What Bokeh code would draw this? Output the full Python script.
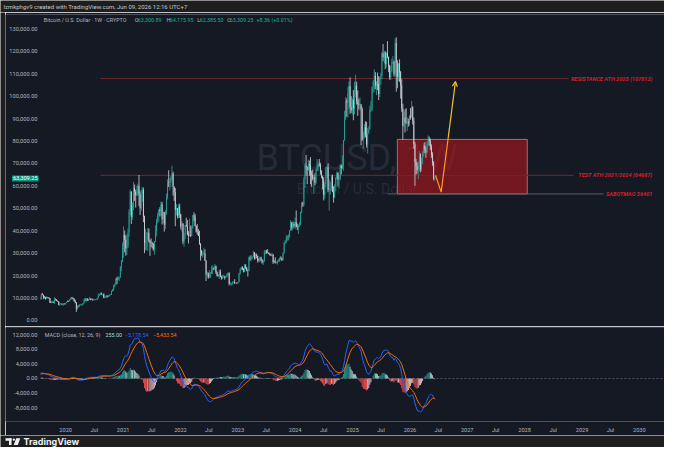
import numpy as np
import pandas as pd
from bokeh.plotting import figure
from bokeh.layouts import column, row
from bokeh.models import (ColumnDataSource, Range1d, FixedTicker, NumeralTickFormatter,
                          Label, Span, Arrow, OpenHead)
from bokeh.embed import file_html
from bokeh.resources import INLINE

# ======================= DATA =======================
header_text = "lzmkphgv9 created with TradingView.com, Jun 09, 2026 12:16 UTC+7"
symbol_text = "BTCUSD, 1W"
symbol_name = "Bitcoin / U.S. Dollar"
legend_title = "Bitcoin / U.S. Dollar · 1W · CRYPTO"
legend_ohlc_names = ["O", "H", "L", "C"]
legend_ohlc_values = [63300.89, 64175.95, 62385.50, 63309.25]
legend_change = 8.36
legend_change_pct = 0.01
macd_title = "MACD (close, 12, 26, 9)"
macd_legend_values = [255.00, -5178.54, -5433.54]   # histogram, MACD, signal

# weekly candles (thousands USD), weeks start 2019-04-01
start_week = "2019-04-01"
first_open_k = 4.10
close_2019 = [5.05,5.07,5.28,5.26,5.75,7.00,8.00,8.70,8.10,7.70,8.95,10.80,10.80,11.45,10.20,10.60,9.50,11.70,11.35,10.20,
              10.15,9.60,10.40,10.30,10.00,8.05,7.95,8.30,7.95,9.25,9.20,8.80,8.50,7.05,7.40,7.50,7.10,7.50,7.30,7.75]
high_2019 = [5.35,5.47,5.35,5.65,5.90,7.40,8.30,8.95,9.10,8.20,9.40,11.20,13.80,12.00,13.20,11.10,10.60,11.90,12.30,11.60,
             10.95,10.60,10.90,10.45,10.30,10.05,8.55,8.80,8.45,10.40,9.90,9.50,8.90,8.50,7.90,7.75,7.50,7.60,7.70,7.80]
low_2019 = [4.10,4.95,5.00,5.05,5.15,5.65,6.60,7.50,7.90,7.45,7.55,8.95,10.30,9.70,10.10,9.10,9.20,9.35,11.20,9.50,
            9.80,9.30,9.60,9.90,9.60,7.80,7.75,7.90,7.90,7.30,8.90,8.60,8.30,6.80,6.50,7.20,6.95,6.50,7.10,6.90]
close_2020 = [8.20,8.70,8.60,9.30,10.15,9.90,9.70,8.55,8.00,5.35,5.85,6.25,6.80,6.90,7.10,7.70,8.90,8.75,9.70,8.90,
              9.45,9.65,9.35,9.30,9.00,9.30,9.25,9.20,9.95,11.10,11.65,11.90,11.65,11.65,10.25,10.65,11.10,10.75,11.30,11.35,
              11.50,13.05,13.80,15.50,16.00,18.70,18.20,19.10,19.25,23.90,26.25,33.00]
high_2020 = [8.45,9.20,8.80,9.60,10.20,10.50,10.30,9.95,9.20,8.20,6.90,6.95,7.30,7.45,7.30,7.80,9.45,10.00,9.95,9.85,
             9.70,10.40,9.90,9.80,9.75,9.35,9.45,9.35,10.10,12.10,12.00,12.45,12.45,11.75,12.10,10.70,11.15,11.00,11.30,11.70,
             11.75,13.35,14.10,15.95,16.50,18.80,19.40,19.90,19.40,24.20,26.90,34.80]
low_2020 = [7.70,8.10,8.25,8.60,9.15,9.70,9.30,8.40,7.70,3.80,4.90,5.70,6.15,6.75,6.50,6.80,7.60,8.60,8.20,8.80,
            8.65,9.20,9.05,9.20,8.90,8.90,9.10,9.05,9.15,9.90,11.05,11.30,11.40,11.10,9.90,9.90,10.20,10.15,10.40,10.55,
            11.20,11.40,12.90,13.20,14.80,15.80,16.20,18.20,17.60,19.00,21.90,25.90]
close_2021 = [38.20,36.00,32.10,33.10,39.20,48.60,57.50,46.10,51.00,59.00,57.50,55.80,57.00,60.00,56.20,50.00,56.60,58.20,46.40,34.70,
              35.70,35.80,39.10,35.50,34.70,34.50,34.25,31.80,35.40,39.90,44.60,47.00,49.30,48.80,51.80,45.10,48.30,42.70,48.20,54.90,
              61.50,61.30,61.30,63.30,65.50,59.70,57.20,49.40,50.10,46.70,50.80,47.30]
high_2021 = [41.95,40.10,37.85,38.50,40.95,49.70,58.35,57.50,52.60,61.80,60.60,58.30,60.00,61.00,64.85,57.50,58.40,59.60,59.20,46.70,
             40.90,39.50,41.30,41.00,36.00,36.60,35.10,34.50,35.40,42.50,45.30,48.10,49.40,50.50,52.95,52.90,48.80,47.45,49.20,56.50,
             62.90,67.00,63.70,64.40,69.00,66.30,59.40,59.00,51.95,50.00,51.80,52.10]
low_2021 = [28.00,30.40,28.90,29.25,32.30,37.40,47.00,43.00,45.00,49.10,53.30,50.30,55.50,55.50,51.00,47.00,48.80,53.00,43.80,30.00,
            31.20,31.40,31.00,34.80,28.80,32.70,32.10,31.00,29.30,34.90,37.50,43.30,43.90,46.35,46.50,42.80,43.40,39.60,40.75,47.10,
            53.90,59.50,58.00,59.40,62.30,55.60,53.30,42.00,46.80,45.50,45.60,45.70]
close_2022 = [41.90,43.10,35.10,38.20,42.40,42.20,38.40,37.70,38.00,37.80,41.30,46.80,46.40,42.20,39.70,39.50,37.70,34.30,31.30,29.40,
              29.40,29.90,26.60,20.50,21.00,19.30,20.80,20.80,22.60,23.30,23.20,24.30,21.50,20.00,19.80,21.80,19.40,18.80,19.30,19.40,
              19.10,19.60,20.60,21.10,16.30,16.30,16.45,17.10,17.10,16.75,16.85,16.55]
high_2022 = [47.55,44.40,43.50,38.90,42.60,45.80,44.75,39.80,45.40,42.30,42.30,47.00,48.20,47.50,41.50,42.95,40.80,40.00,34.40,31.30,
             30.60,32.40,31.70,26.90,21.85,21.50,22.50,21.60,24.30,24.65,23.65,25.20,24.45,21.90,20.55,22.50,22.75,19.95,20.35,20.45,
             19.95,19.70,21.00,21.45,21.45,17.20,16.80,17.40,17.45,18.40,17.00,16.90]
low_2022 = [40.60,39.65,34.00,32.90,36.25,41.70,37.95,34.30,37.60,37.20,37.60,40.90,44.30,41.90,39.20,38.20,37.60,33.70,26.70,28.65,
            28.00,29.30,26.55,17.60,19.60,18.60,19.00,18.90,20.70,20.70,22.40,22.65,20.75,19.55,19.55,18.50,19.30,18.15,18.50,19.00,
            18.20,18.95,19.20,20.00,15.60,15.80,15.50,16.00,16.75,16.30,16.40,16.35]
close_2023 = [17.10,20.90,22.70,23.75,22.95,21.80,24.60,23.50,22.20,22.10,28.00,27.50,28.20,28.30,30.30,27.60,29.30,28.85,26.90,26.75,
              28.10,27.10,25.90,26.30,30.50,30.60,30.30,30.20,29.90,29.30,29.05,29.30,26.10,26.00,25.85,25.85,26.55,26.55,27.95,27.90,
              26.85,30.00,34.50,35.00,37.05,37.30,37.45,39.95,43.80,41.35,43.00,42.25]
high_2023 = [17.20,21.25,23.35,23.95,24.25,23.45,25.25,25.10,23.90,22.65,28.40,28.90,29.20,28.75,31.00,30.55,30.00,29.85,28.80,27.65,
             28.45,28.45,27.35,26.80,31.40,31.45,31.50,31.80,30.35,30.00,29.70,30.20,29.60,26.80,28.15,26.20,26.90,27.45,28.05,28.60,
             28.00,30.35,35.20,35.90,37.95,37.95,38.40,40.20,44.70,43.50,44.40,43.80]
low_2023 = [16.55,17.15,20.40,22.30,22.50,21.40,21.50,22.80,21.90,19.60,21.95,26.60,26.55,27.25,28.20,27.10,27.20,27.70,25.80,26.30,
            25.90,26.55,25.35,24.80,26.30,29.50,29.75,29.95,29.50,28.90,28.70,28.75,25.20,25.80,25.35,25.45,24.90,26.10,26.00,27.20,
            26.55,26.80,29.85,33.95,34.55,35.50,35.70,36.80,39.95,40.20,40.50,41.40]
close_2024 = [43.95,41.70,41.55,42.05,42.60,48.30,52.10,51.70,63.10,68.90,68.40,67.20,69.65,69.35,65.65,64.95,63.10,63.90,61.50,66.90,
              69.40,69.65,69.30,66.20,64.30,62.70,55.85,60.80,68.15,68.25,58.10,58.70,58.95,64.20,57.30,54.85,59.95,63.60,65.60,62.80,
              62.90,68.95,67.95,69.35,80.35,89.85,97.65,97.20,101.15,104.45,95.20,93.75,98.30]
high_2024 = [45.90,49.00,43.20,42.80,43.85,48.55,52.80,52.95,64.00,70.00,73.80,68.60,71.70,71.30,72.80,66.80,67.20,64.70,65.50,67.70,
             71.95,70.00,71.95,70.20,66.95,64.50,63.85,61.40,68.40,69.00,70.00,62.75,61.80,65.00,64.95,59.80,60.65,64.10,66.50,66.10,
             64.45,69.50,69.50,73.60,80.50,93.50,99.60,98.90,104.00,106.50,108.35,99.95,99.00]
low_2024 = [40.75,41.50,40.30,38.55,41.85,42.50,47.70,50.60,50.90,59.00,64.50,60.80,66.50,64.50,60.70,59.60,62.40,56.50,60.20,60.75,
            66.60,66.60,68.50,65.00,63.40,58.40,53.50,54.25,59.40,63.50,57.20,49.00,56.10,57.80,57.20,52.55,54.60,57.50,62.70,59.80,
            58.90,62.40,65.10,67.50,66.80,80.00,89.40,90.80,90.50,94.20,92.10,92.50,91.80]
close_2025 = [94.50,101.30,104.70,97.70,96.50,96.10,96.20,94.20,80.70,82.60,86.10,82.50,78.40,83.70,85.10,93.70,94.30,104.10,106.50,109.00,
              104.60,105.70,105.50,100.90,108.40,109.20,119.10,117.30,119.40,114.20,119.30,117.40,113.50,108.30,111.20,115.30,115.30,109.70,123.50,115.00,
              108.60,114.50,110.60,104.70,94.50,86.80,90.40,88.40,88.20,88.60,87.80,91.00]
high_2025 = [102.70,106.40,109.60,106.40,102.50,98.80,99.50,96.50,95.00,84.20,87.50,88.80,88.50,85.90,86.50,95.70,97.90,104.30,107.10,112.00,
             110.70,106.80,110.50,108.90,108.50,110.50,119.50,123.20,120.20,120.00,119.50,124.50,117.60,114.00,113.40,116.70,117.90,115.80,125.70,126.20,
             116.00,114.60,116.40,111.20,107.50,96.60,93.10,94.10,94.60,90.60,90.00,91.50]
low_2025 = [89.25,91.90,99.50,96.20,91.20,94.10,93.40,78.20,80.00,76.60,81.20,81.60,77.10,74.40,83.00,85.10,92.80,93.40,101.40,102.10,
            103.10,100.40,102.70,98.20,99.60,105.10,107.50,115.70,114.70,112.00,112.70,116.80,110.70,107.30,107.20,110.60,114.40,108.60,108.90,102.00,
            103.50,106.70,106.30,98.90,93.00,80.50,86.10,83.80,87.60,84.40,86.40,86.80]
close_2026 = [90.50,95.00,89.00,78.50,70.50,68.80,67.20,70.00,74.00,67.50,71.00,74.50,78.00,76.00,75.00,79.00,81.00,80.00,77.50,74.00,
              70.50,63.30089,63.30925]
high_2026 = [94.70,97.90,95.50,90.50,79.50,72.00,70.50,71.00,75.50,74.50,72.50,75.50,79.00,79.50,77.50,80.00,82.50,82.00,81.00,78.50,
             75.00,71.00,64.17595]
low_2026 = [89.50,90.80,87.30,76.50,60.00,65.00,65.50,63.00,66.50,66.00,66.50,69.50,73.00,74.50,72.50,74.50,77.50,78.00,76.00,72.50,
            69.00,62.50,62.3855]

# axes
pane_left_date = "2018-12-14"      # left edge of the chart panel (axis labels live here)
axis_date = "2019-07-25"           # price-scale boundary / first visible bar
x_axis_end = "2030-06-10"
pane_full_end = "2030-08-07"
price_ticks = [0, 10000, 20000, 30000, 40000, 50000, 60000, 70000, 80000, 90000, 100000, 110000, 120000, 130000]
macd_ticks = [-8000, -4000, 0, 4000, 8000, 12000]
time_tick_dates = ["2020-01-01", "2020-07-01", "2021-01-01", "2021-07-01", "2022-01-01", "2022-07-01",
                   "2023-01-01", "2023-07-01", "2024-01-01", "2024-07-01", "2025-01-01", "2025-07-01",
                   "2026-01-01", "2026-07-01", "2027-01-01", "2027-07-01", "2028-01-01", "2028-07-01",
                   "2029-01-01", "2029-07-01", "2030-01-01"]
time_tick_labels = ["2020", "Jul", "2021", "Jul", "2022", "Jul", "2023", "Jul", "2024", "Jul", "2025", "Jul",
                    "2026", "Jul", "2027", "Jul", "2028", "Jul", "2029", "Jul", "2030"]

# drawings
level_values = [107812, 64687, 56401]
level_texts = ["RESISTANCE ATH 2025 (107812)", "TEST ATH 2021/2024 (64687)", "SABOTMAO 56401"]
level_start = ["2020-08-10", "2020-08-10", "2025-08-12"]
level_end = ["2028-10-07", "2028-11-08", "2029-05-18"]
level_text_end = "2030-03-25"
zone_dates = ["2025-10-13", "2028-01-18"]
zone_prices = [56401, 80700]
path_dates = ["2026-06-13", "2026-07-19", "2026-10-18"]
path_prices = [64700, 57200, 106500]

# ======================= STYLE =======================
OUTER = "#1e1e1e"
PANEL = "#151924"
TXT = "#b2b5be"
UP = "#26a69a"
DOWN = "#d1d4dc"
FONT = "Roboto"
price_y = (-2674, 136364)
macd_y = (-11733, 13910)


def ms(d):
    return pd.Timestamp(d).value / 1e6


# ======================= BUILD DATA =======================
close = np.array(close_2019 + close_2020 + close_2021 + close_2022 + close_2023 + close_2024 + close_2025 + close_2026) * 1000
high = np.array(high_2019 + high_2020 + high_2021 + high_2022 + high_2023 + high_2024 + high_2025 + high_2026) * 1000
low = np.array(low_2019 + low_2020 + low_2021 + low_2022 + low_2023 + low_2024 + low_2025 + low_2026) * 1000
opens = np.concatenate([[first_open_k * 1000], close[:-1]])
high = np.maximum(high, np.maximum(opens, close))
low = np.minimum(low, np.minimum(opens, close))
dates = pd.date_range(start_week, periods=len(close), freq="7D")
xs = np.array([ms(d) for d in dates])
week = 7 * 24 * 3600 * 1000.0
up = close >= opens
candle_colors = np.where(up, UP, DOWN)
cs = ColumnDataSource(dict(x=xs, o=opens, h=high, l=low, c=close,
                           top=np.maximum(opens, close), bot=np.minimum(opens, close), col=candle_colors))

s = pd.Series(close)
macd = s.ewm(span=12, adjust=False).mean() - s.ewm(span=26, adjust=False).mean()
signal = macd.ewm(span=9, adjust=False).mean()
hist = macd - signal
prev = hist.shift(1).fillna(0)
hcol = np.where(hist >= 0, np.where(prev < hist, "#26a69a", "#b2dfdb"),
                np.where(prev < hist, "#ffcdd2", "#ff5252"))
ms_src = ColumnDataSource(dict(x=xs, macd=macd.values, sig=signal.values, hist=hist.values, col=hcol))

xr = Range1d(ms(pane_left_date), ms(x_axis_end))
ax_x = ms(axis_date)


def style_axis(ax):
    ax.axis_line_color = None
    ax.major_tick_line_color = None
    ax.minor_tick_line_color = None
    ax.major_tick_out = 0
    ax.major_tick_in = 0
    ax.major_label_text_color = TXT
    ax.major_label_text_font = FONT
    ax.major_label_text_font_size = "5.7px"


def base_fig(w, h, xrange, yrange, **kw):
    f = figure(width=w, height=h, x_range=xrange, y_range=yrange, output_backend="svg",
               toolbar_location=None, **kw)
    f.outline_line_color = None
    f.xgrid.visible = False
    f.ygrid.visible = False
    return f


# ---------- header ----------
header = base_fig(664, 12, Range1d(0, 664), Range1d(0, 12), x_axis_location=None, y_axis_location=None,
                  min_border=0, background_fill_color=OUTER, border_fill_color=OUTER)
header.add_layout(Label(x=3, y=6, text=header_text, text_baseline="middle", text_font=FONT,
                        text_font_size="6px", text_color="#c3c6ce"))

# ---------- price pane ----------
price = base_fig(659, 314, xr, Range1d(*price_y), x_axis_location=None, y_axis_location="left",
                 min_border_left=0, min_border_right=0, min_border_top=2, min_border_bottom=0,
                 background_fill_color=PANEL, border_fill_color=PANEL)
style_axis(price.yaxis[0])
price.yaxis.fixed_location = ax_x
price.yaxis.ticker = FixedTicker(ticks=price_ticks)
price.yaxis.formatter = NumeralTickFormatter(format="0,0.00")
price.yaxis.major_label_standoff = 3

wm_x = (ax_x + ms(pane_full_end)) / 2
ymid = (price_y[0] + price_y[1]) / 2
price.add_layout(Label(x=wm_x, y=ymid, y_offset=13, text=symbol_text, text_align="center",
                       text_baseline="middle", text_font=FONT, text_font_size="36px",
                       text_color="#272b37", level="underlay"))
price.add_layout(Label(x=wm_x, y=ymid, y_offset=-18, text=symbol_name, text_align="center",
                       text_baseline="middle", text_font=FONT, text_font_size="14px",
                       text_color="#272b37", level="underlay"))

# zone box
price.quad(left=[ms(zone_dates[0])], right=[ms(zone_dates[1])], bottom=[zone_prices[0]], top=[zone_prices[1]],
           fill_color="#b0141d", fill_alpha=0.6, line_color="#b98787", line_alpha=0.8, line_width=1)

# level lines
lv = ColumnDataSource(dict(x0=[ms(d) for d in level_start], x1=[ms(d) for d in level_end],
                           y=level_values, col=["#70292d", "#70292d", "#5c5f6a"]))
price.segment(x0="x0", y0="y", x1="x1", y1="y", line_color="col", line_width=1, source=lv)

# candles
price.segment(x0="x", y0="l", x1="x", y1="h", line_color="col", line_width=0.8, source=cs)
price.vbar(x="x", width=week * 0.7, top="top", bottom="bot", fill_color="col", line_color=None, source=cs)

# projected path
px = [ms(d) for d in path_dates]
py = path_prices
mx = (px[1] + px[2]) / 2
my = (py[1] + py[2]) / 2
price.line([px[0], px[1], mx], [py[0], py[1], my], line_color="#ff9a1a", line_width=1.2)
price.add_layout(Arrow(x_start=mx, y_start=my, x_end=px[2], y_end=py[2], line_color="#f2c12e",
                       line_width=1.2, end=OpenHead(size=5, line_color="#f2c12e", line_width=1.2)))

# price-scale strip (hides bars left of the price scale boundary)
price.quad(left=[xr.start], right=[ax_x], bottom=[price_y[0]], top=[price_y[1]],
           fill_color=PANEL, line_color=None)

for val, txt in zip(level_values, level_texts):
    price.add_layout(Label(x=ms(level_text_end), y=val, text=txt, text_align="right",
                           text_baseline="middle", text_font=FONT, text_font_size="5.6px",
                           text_font_style="bold italic", text_color="#d1202b"))

# legend
seg_texts = [legend_title]
seg_colors = [TXT]
for n, v in zip(legend_ohlc_names, legend_ohlc_values):
    seg_texts += [n, f"{v:,.2f}"]
    seg_colors += [TXT, "#22ab94"]
seg_texts.append(f"+{legend_change:.2f} (+{legend_change_pct:.2f}%)")
seg_colors.append("#22ab94")
seg_offsets = [3.3, 94.3, 97.3, 126.0, 129.3, 156.7, 159.3, 186.7, 189.3, 216.0]
for t, c, o in zip(seg_texts, seg_colors, seg_offsets):
    price.add_layout(Label(x=ax_x, y=price_y[1], x_offset=o, y_offset=-5, text=t,
                           text_baseline="middle", text_font=FONT, text_font_size="5.4px", text_color=c))

# last price tag on the price scale
price.add_layout(Label(x=ax_x, y=close[-1], x_offset=-2, text=f"{close[-1]:,.2f}",
                       text_align="right", text_baseline="middle", text_font=FONT,
                       text_font_size="5.6px", text_color="#ffffff",
                       background_fill_color="#089981", padding=1))

# ---------- MACD pane ----------
mfig = base_fig(659, 109, xr, Range1d(*macd_y), x_axis_location="below", y_axis_location="left",
                min_border_left=0, min_border_right=0, min_border_top=1, min_border_bottom=14,
                background_fill_color=PANEL, border_fill_color=PANEL)
style_axis(mfig.yaxis[0])
mfig.yaxis.fixed_location = ax_x
mfig.yaxis.ticker = FixedTicker(ticks=macd_ticks)
mfig.yaxis.formatter = NumeralTickFormatter(format="0,0.00")
mfig.yaxis.major_label_standoff = 3
style_axis(mfig.xaxis[0])
tick_ms = [ms(d) for d in time_tick_dates]
mfig.xaxis.ticker = FixedTicker(ticks=tick_ms)
mfig.xaxis.major_label_overrides = {t: lab for t, lab in zip(tick_ms, time_tick_labels)}
mfig.xaxis.major_label_standoff = 5
mfig.xaxis.major_label_text_font_size = "5.6px"

mfig.add_layout(Span(location=macd_y[1], dimension="width", line_color="#2a2e39", line_width=1))
mfig.segment(x0=[ax_x], y0=[0], x1=[xr.end], y1=[0], line_color="#787b86", line_alpha=0.6,
             line_dash="2 2", line_width=1)
mfig.vbar(x="x", width=week * 0.75, top="hist", bottom=0, fill_color="col", line_color=None, source=ms_src)
mfig.line(x="x", y="macd", line_color="#2962ff", line_width=1, source=ms_src)
mfig.line(x="x", y="sig", line_color="#ff6d00", line_width=1, source=ms_src)
mfig.quad(left=[xr.start], right=[ax_x], bottom=[macd_y[0]], top=[macd_y[1]],
          fill_color=PANEL, line_color=None)

m_texts = [macd_title] + [f"{v:,.2f}".replace("-", "\u2212") for v in macd_legend_values]
m_colors = [TXT, "#b2dfdb", "#2962ff", "#ff6d00"]
m_offsets = [4.3, 65.0, 84.3, 112.3]
for t, c, o in zip(m_texts, m_colors, m_offsets):
    mfig.add_layout(Label(x=ax_x, y=macd_y[1], x_offset=o, y_offset=-7.3, text=t,
                          text_baseline="middle", text_font=FONT, text_font_size="5.4px", text_color=c))

# ---------- left strip ----------
left_strip = base_fig(5, 423, Range1d(0, 1), Range1d(0, 1), x_axis_location=None, y_axis_location=None,
                      min_border=0, background_fill_color=OUTER, border_fill_color=OUTER)

# ---------- footer ----------
footer = base_fig(664, 12, Range1d(0, 664), Range1d(0, 12), x_axis_location=None, y_axis_location=None,
                  min_border=0, background_fill_color=OUTER, border_fill_color=OUTER)
LOGO = "#eef0f4"
footer.quad(left=[5.0, 8.5], right=[11.0, 11.0], bottom=[6.8, 2.5], top=[9.3, 9.3],
            fill_color=LOGO, line_color=None)
footer.circle(x=[13.3], y=[7.9], radius=1.2, fill_color=LOGO, line_color=None)
footer.patch(x=[15.7, 19.8, 17.3, 13.2], y=[9.3, 9.3, 2.5, 2.5], fill_color=LOGO, line_color=None)
footer.add_layout(Label(x=23, y=6, text="TradingView", text_baseline="middle", text_font="Inter",
                        text_font_size="9px", text_font_style="bold", text_color=LOGO))

layout = column(header, row(left_strip, column(price, mfig)), footer)

with open("out.html", "w") as f:
    f.write(file_html(layout, INLINE))
